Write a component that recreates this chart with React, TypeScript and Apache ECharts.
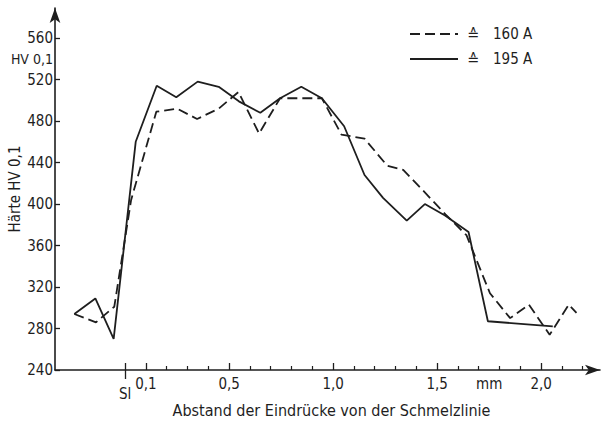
import React, { useEffect, useRef } from "react";
import * as echarts from "echarts";

// Distance from the fusion line (mm) and hardness HV 0,1
const x160 = [-0.244, -0.14, -0.052, 0.029, 0.15, 0.25, 0.346, 0.45, 0.545, 0.644, 0.745, 0.845, 0.946, 1.04, 1.151, 1.26, 1.337, 1.442, 1.54, 1.641, 1.754, 1.851, 1.941, 2.041, 2.133, 2.17];
const hv160 = [294, 286, 301, 404, 489, 492, 482, 492, 508, 468, 502, 502, 502, 467, 463, 437, 433, 411, 390, 370, 314, 290, 303, 274, 303, 295];

const x195 = [-0.244, -0.143, -0.055, 0.051, 0.152, 0.246, 0.349, 0.45, 0.547, 0.65, 0.745, 0.847, 0.946, 1.053, 1.151, 1.24, 1.354, 1.441, 1.538, 1.651, 1.744, 2.056];
const hv195 = [294, 309, 270, 460, 514, 503, 518, 513, 499, 488, 502, 513, 502, 475, 428, 406, 384, 400, 389, 373, 287, 282];

const seriesNames = ["160 A", "195 A"];

const xMajorTicks = [0, 0.1, 0.5, 1.0, 1.5, 2.0];
const xMinorTicks = [0.2, 0.3, 0.4, 0.6, 0.7, 0.8, 0.9, 1.1, 1.2, 1.3, 1.4, 1.6, 1.7, 1.8, 1.9, 2.1, 2.2];
const xLabelValues = [0.1, 0.5, 1.0, 1.5, 1.75, 2.0];
const xLabelTexts = ["0,1", "0,5", "1,0", "1,5", "mm", "2,0"];

const yTicks = [240, 280, 320, 360, 400, 440, 480, 520, 560];
const yUnitValue = 540;
const yUnitText = "HV 0,1";

const FONT = "'DejaVu Sans Condensed', 'Liberation Sans Narrow', 'Roboto', sans-serif";
const INK = "#1e1e1e";

export default function App() {
  const ref = useRef<HTMLDivElement>(null);
  useEffect(() => {
    if (!ref.current) return;
    const chart = echarts.init(ref.current, null, { renderer: "svg" });
    const xMin = -0.337;
    const xMax = 2.283;
    const baseX = {
      type: "value",
      min: xMin,
      max: xMax,
      position: "bottom",
      offset: 0,
      splitLine: { show: false },
    };
    chart.setOption({
      animation: false,
      backgroundColor: "#ffffff",
      textStyle: { fontFamily: FONT, color: INK },
      grid: { left: 55, right: 3, top: 8, bottom: 54, containLabel: false, outerBoundsMode: "none" },
      legend: {
        orient: "vertical",
        left: 404,
        top: 21,
        itemWidth: 48,
        itemHeight: 14,
        itemGap: 9,
        data: seriesNames,
        itemStyle: { opacity: 0, borderWidth: 0 },
        formatter: (n: string) => `{s|≙}{t|${n}}`,
        textStyle: {
          fontFamily: FONT,
          fontSize: 15,
          lineHeight: 14,
          color: INK,
          padding: [0, 0, 0, 4],
          rich: {
            s: { width: 26, fontSize: 16, lineHeight: 14, fontFamily: FONT, color: INK },
            t: { fontSize: 15, lineHeight: 14, fontFamily: FONT, color: INK },
          },
        },
      },
      xAxis: [
        {
          ...baseX,
          axisLine: {
            show: true,
            onZero: false,
            symbol: ["none", "arrow"],
            symbolSize: [8, 15],
            lineStyle: { color: INK, width: 1.6 },
          },
          axisTick: { show: true, customValues: xMajorTicks, inside: true, length: 7, lineStyle: { color: INK, width: 1.3 } },
          axisLabel: {
            show: true,
            customValues: xLabelValues,
            margin: 6,
            fontSize: 15,
            fontFamily: FONT,
            color: INK,
            formatter: (v: number) => {
              const i = xLabelValues.findIndex((a) => Math.abs(a - v) < 1e-6);
              return i >= 0 ? xLabelTexts[i] : "";
            },
          },
          name: "Abstand der Eindrücke von der Schmelzlinie",
          nameLocation: "middle",
          nameGap: 32,
          nameMoveOverlap: false,
          nameTextStyle: { fontSize: 16, fontFamily: FONT, color: INK, padding: [0, 0, 0, 8] },
        },
        {
          ...baseX,
          axisLine: { show: false, onZero: false },
          axisTick: { show: true, customValues: xMinorTicks, inside: true, length: 4, lineStyle: { color: INK, width: 1.2 } },
          axisLabel: { show: false },
        },
        {
          ...baseX,
          axisLine: { show: false, onZero: false },
          axisTick: { show: true, customValues: [0], inside: false, length: 9, lineStyle: { color: INK, width: 1.3 } },
          axisLabel: {
            show: true,
            customValues: [0],
            margin: 16,
            fontSize: 15,
            fontFamily: FONT,
            color: INK,
            formatter: () => "Sl",
          },
        },
      ],
      yAxis: {
        type: "value",
        min: 240,
        max: 589,
        splitLine: { show: false },
        axisLine: {
          show: true,
          onZero: false,
          symbol: ["none", "arrow"],
          symbolSize: [8, 15],
          lineStyle: { color: INK, width: 1.6 },
        },
        axisTick: { show: true, customValues: yTicks, inside: true, length: 5, lineStyle: { color: INK, width: 1.3 } },
        axisLabel: {
          show: true,
          customValues: [...yTicks, yUnitValue],
          margin: 2,
          fontSize: 15,
          fontFamily: FONT,
          color: INK,
          formatter: (v: number) => (Math.abs(v - yUnitValue) < 1e-6 ? `{u|${yUnitText}}` : String(v)),
          rich: { u: { fontSize: 14, fontFamily: FONT, color: INK } },
        },
        name: "Härte HV 0,1",
        nameLocation: "middle",
        nameGap: 33,
        nameMoveOverlap: false,
        nameRotate: 90,
        nameTextStyle: { fontSize: 15, fontFamily: FONT, color: INK },
      },
      series: [
        {
          name: seriesNames[0],
          type: "line",
          xAxisIndex: 0,
          symbol: "none",
          showSymbol: false,
          data: x160.map((x, i) => [x, hv160[i]]),
          lineStyle: { color: INK, width: 1.8, type: [10, 5] },
          itemStyle: { color: INK },
        },
        {
          name: seriesNames[1],
          type: "line",
          xAxisIndex: 0,
          symbol: "none",
          showSymbol: false,
          data: x195.map((x, i) => [x, hv195[i]]),
          lineStyle: { color: INK, width: 1.8, type: "solid" },
          itemStyle: { color: INK },
        },
      ],
    });
    return () => chart.dispose();
  }, []);
  return (
    <div
      ref={ref}
      style={{ position: "absolute", left: 0, top: 0, width: 603, height: 424, background: "#fff" }}
    />
  );
}
